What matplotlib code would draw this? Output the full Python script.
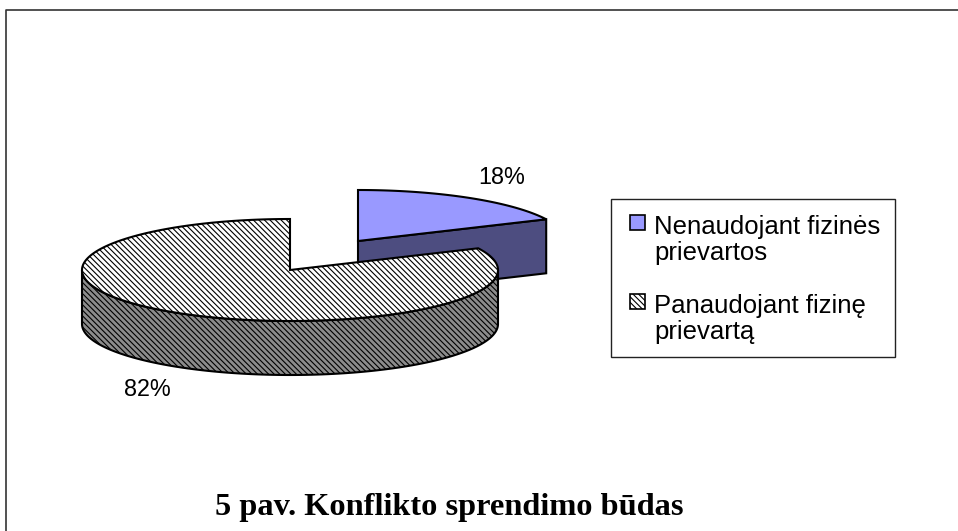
import numpy as np
import matplotlib
matplotlib.use("Agg")
import matplotlib.pyplot as plt
from matplotlib.patches import Polygon, Rectangle

plt.rcParams['hatch.linewidth'] = 0.8

categories = ["Nenaudojant fizinės\nprievartos", "Panaudojant fizinę\nprievartą"]
shares = [18, 82]
pct_labels = ["18%", "82%"]
title = "5 pav. Konflikto sprendimo būdas"

RX, RY, DEPTH = 208, 51, 54
HATCH = "\\" * 6


def ellipse_pts(cx, cy, a0, a1, n=200):
    # angles in degrees clockwise from 12 o'clock, y axis points down
    t = np.radians(np.linspace(a0, a1, n))
    return np.column_stack([cx + RX * np.sin(t), cy - RY * np.cos(t)])


def draw_top(cx, cy, a0, a1, **kw):
    pts = np.vstack([[cx, cy], ellipse_pts(cx, cy, a0, a1)])
    ax.add_patch(Polygon(pts, closed=True, **kw))


fig = plt.figure(figsize=(9.58, 5.31), dpi=100)
ax = fig.add_axes([0, 0, 1, 1])
ax.set_xlim(0, 958)
ax.set_ylim(531, 0)
ax.axis("off")

# page frame, only left and top edges are in the crop
ax.plot([6, 6, 958], [531, 9.5, 9.5], color="#333333", lw=1.2)

split = 360 * shares[0] / sum(shares)

# exploded slice
cx1, cy1 = 358, 241
tip = ellipse_pts(cx1, cy1, split, split, 1)[0]
wall = [[cx1, cy1], tip, tip + [0, DEPTH], [cx1, cy1 + DEPTH]]
ax.add_patch(Polygon(wall, closed=True, fc="#4d4d80", ec="black", lw=1.5))
draw_top(cx1, cy1, 0, split, fc="#9999ff", ec="black", lw=1.5)

# main slice
cx2, cy2 = 290, 270
front = ellipse_pts(cx2, cy2, 90, 270)
side = np.vstack([front, (front + [0, DEPTH])[::-1]])
ax.add_patch(Polygon(side, closed=True, fc="#8c8c8c", ec="black", lw=1.5, hatch=HATCH))
draw_top(cx2, cy2, split, 360, fc="white", ec="black", lw=1.5, hatch=HATCH)

ax.text(502, 177, pct_labels[0], ha="center", va="center", fontsize=16.8, family="Liberation Sans")
ax.text(147.5, 389, pct_labels[1], ha="center", va="center", fontsize=16.8, family="Liberation Sans")

# legend
ax.add_patch(Rectangle((611, 199), 284, 158, fc="white", ec="#222222", lw=1))
ax.add_patch(Rectangle((630, 215), 15, 15, fc="#9999ff", ec="black", lw=1.2))
ax.add_patch(Rectangle((630, 294), 15, 15, fc="white", ec="black", lw=1.2, hatch=HATCH))
for y, label in zip([260, 339], categories):
    ax.text(654, y, label, ha="left", va="baseline", fontsize=18.5, family="Liberation Sans", linespacing=1.13)

ax.text(449, 507, title, ha="center", va="center", fontsize=23.3, fontweight="bold", family="Liberation Serif")

fig.savefig("out.png", dpi=100)
